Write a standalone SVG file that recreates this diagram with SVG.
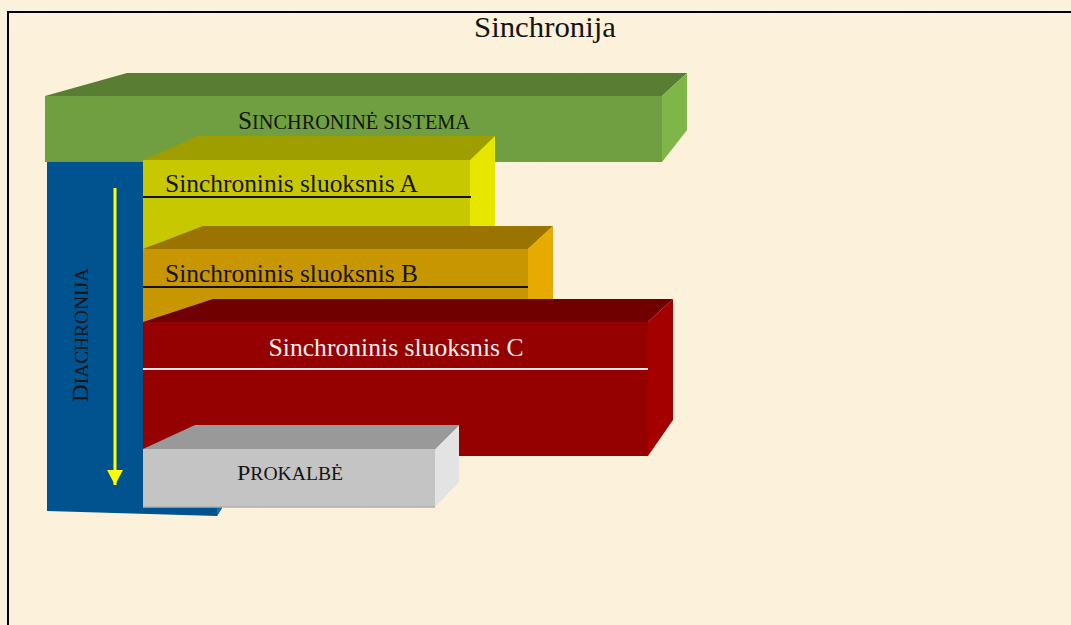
<svg xmlns="http://www.w3.org/2000/svg" width="1071" height="625" viewBox="0 0 1071 625">
  <defs>
    <filter id="paper" x="0" y="0" width="100%" height="100%">
      <feTurbulence type="fractalNoise" baseFrequency="0.012 0.02" numOctaves="3" seed="4" result="n"/>
      <feColorMatrix in="n" type="matrix" values="0 0 0 0 0.98  0 0 0 0 0.90  0 0 0 0 0.70  0 0 0 0.9 -0.25"/>
    </filter>
    <marker id="arrowY" viewBox="0 0 15 16" refX="15" refY="8" markerWidth="15" markerHeight="16" markerUnits="userSpaceOnUse" orient="auto">
      <path d="M0,0 L15,8 L0,16 Z" fill="#FFFF00"/>
    </marker>
  </defs>
  <style>
    .lbl { font-family: "Liberation Serif", "Times New Roman", serif; fill: #141414; }
    .white { fill: #F4F0F0; }
    .sep { stroke-width: 2; }
  </style>

  <!-- background -->
  <rect x="0" y="0" width="1071" height="625" fill="#FCF1DB"/>
  <rect x="0" y="0" width="1071" height="625" filter="url(#paper)" opacity="0.35"/>
  <path d="M8,625 L8,12 L1071,12" fill="none" stroke="#000" stroke-width="2"/>

  <!-- title -->
  <text class="lbl" x="545" y="37" font-size="30" text-anchor="middle" textLength="142" lengthAdjust="spacingAndGlyphs">Sinchronija</text>

  <!-- blue diachrony box -->
  <g id="diachronija">
    <polygon points="47,160 222,160 222,508 217,516 47,511" fill="#00538E"/>
    <polygon points="217,508 222,508 217,516" fill="#1A6BB0"/>
    <text class="lbl" transform="translate(88,402) rotate(-90)" x="0" y="0" textLength="134" lengthAdjust="spacingAndGlyphs"><tspan font-size="24">D</tspan><tspan font-size="19">IACHRONIJA</tspan></text>
  </g>

  <!-- connectors -->
  <g id="connectors">
    <line x1="115" y1="188" x2="115" y2="485" stroke="#FFFF00" stroke-width="3" marker-end="url(#arrowY)"/>
  </g>

  <!-- green system box -->
  <g id="sistema">
    <polygon points="45,96 127,73 687,73 662,96" fill="#5A7D34"/>
    <polygon points="662,96 687,73 687,130 662,162" fill="#80B548"/>
    <rect x="45" y="96" width="617" height="66" fill="#6F9F40"/>
    <text class="lbl" x="238" y="129" textLength="232" lengthAdjust="spacingAndGlyphs"><tspan font-size="25">S</tspan><tspan font-size="20">INCHRONINĖ SISTEMA</tspan></text>
  </g>

  <!-- layer A -->
  <g id="sluoksnisA">
    <polygon points="143,160 198,136 495,136 470,160" fill="#9E9E00"/>
    <polygon points="470,160 495,136 495,225 470,249" fill="#E6E600"/>
    <rect x="143" y="160" width="327" height="89" fill="#C8C800"/>
    <text class="lbl" x="165" y="192" font-size="25" textLength="253" lengthAdjust="spacingAndGlyphs">Sinchroninis sluoksnis A</text>
    <line class="sep" x1="143" y1="197" x2="471" y2="197" stroke="#111"/>
  </g>

  <!-- layer B -->
  <g id="sluoksnisB">
    <polygon points="143,249 203,226 553,226 528,249" fill="#9A7300"/>
    <polygon points="528,249 553,226 553,299 528,322" fill="#E6AA00"/>
    <rect x="143" y="249" width="385" height="73" fill="#C89600"/>
    <text class="lbl" x="165" y="282" font-size="25" textLength="253" lengthAdjust="spacingAndGlyphs">Sinchroninis sluoksnis B</text>
    <line class="sep" x1="143" y1="287" x2="528" y2="287" stroke="#111"/>
  </g>

  <!-- layer C -->
  <g id="sluoksnisC">
    <polygon points="143,322 213,299 673,299 648,322" fill="#700000"/>
    <polygon points="648,322 673,299 673,420 648,456" fill="#A50000"/>
    <rect x="143" y="322" width="505" height="134" fill="#950000"/>
    <text class="lbl white" x="396" y="356" font-size="25" text-anchor="middle" textLength="255" lengthAdjust="spacingAndGlyphs">Sinchroninis sluoksnis C</text>
    <line class="sep" x1="143" y1="369" x2="648" y2="369" stroke="#F2E6E6"/>
  </g>

  <!-- proto-language -->
  <g id="prokalbe">
    <polygon points="143,449 195,425 459,425 435,449" fill="#999999"/>
    <polygon points="435,449 459,425 459,482 435,507" fill="#E3E3E3"/>
    <rect x="143" y="449" width="292" height="58" fill="#C4C4C4"/>
    <line x1="143" y1="507" x2="435" y2="507" stroke="#AFAFAF" stroke-width="1.5"/>
    <text class="lbl" x="237" y="480" textLength="106" lengthAdjust="spacingAndGlyphs"><tspan font-size="22">P</tspan><tspan font-size="18">ROKALBĖ</tspan></text>
  </g>
</svg>
